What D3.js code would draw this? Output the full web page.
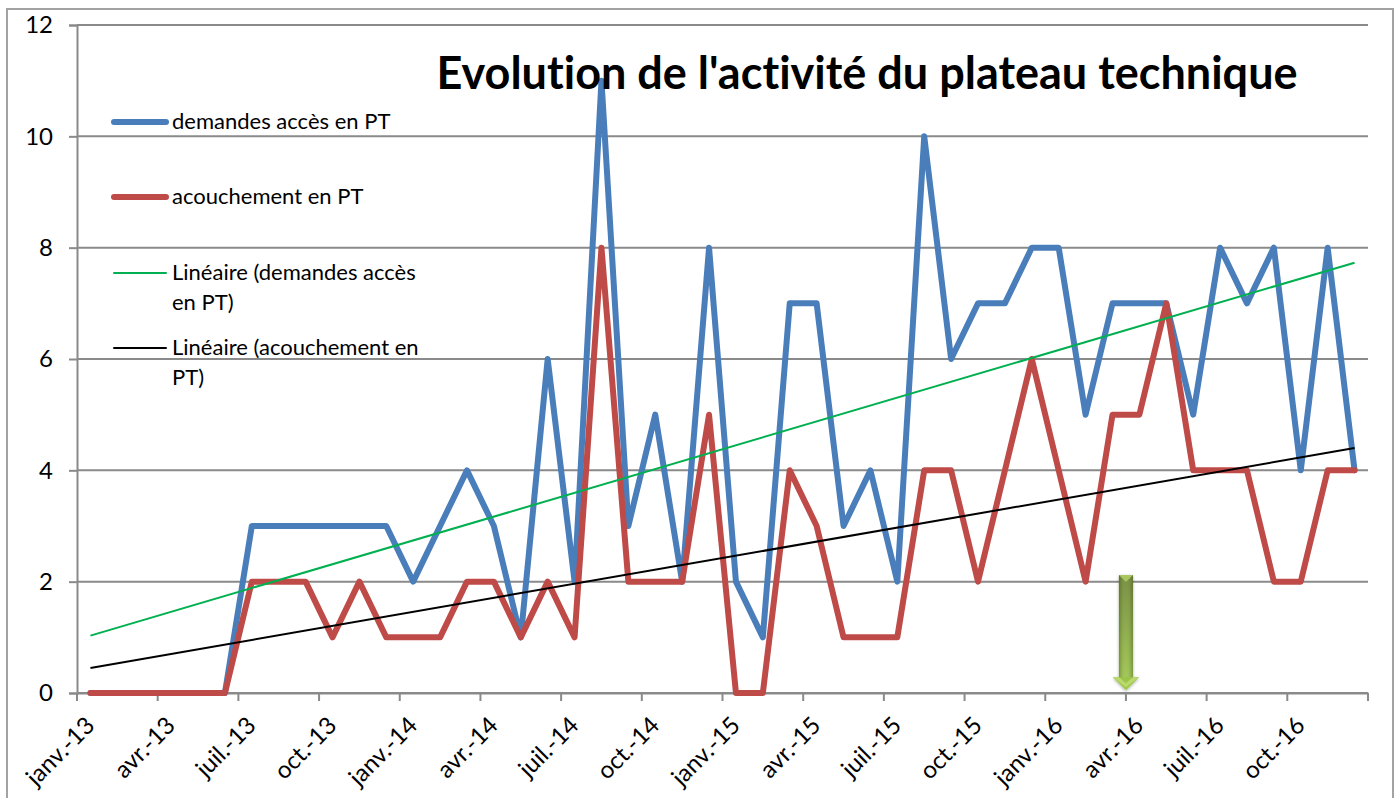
<!DOCTYPE html>
<html>
<head>
<meta charset="utf-8">
<script src="https://cdn.jsdelivr.net/npm/d3@7"></script>
<style>
  html, body { margin: 0; padding: 0; background: #fff; overflow: hidden; }
  text { font-family: Lato, "Open Sans", sans-serif; fill: #000; font-variant-ligatures: none; }
</style>
</head>
<body>
<div id="chart"></div>
<script>
'use strict';

// Months of the category axis
const monthNames = ['janv.', 'févr.', 'mars', 'avr.', 'mai', 'juin', 'juil.', 'août', 'sept.', 'oct.', 'nov.', 'déc.'];
const years = ['13', '14', '15', '16'];
const categories = years.flatMap(y => monthNames.map(m => `${m}-${y}`));

// Values
const demandes = [0, 0, 0, 0, 0, 0, 3, 3, 3, 3, 3, 3, 2, 3, 4, 3, 1, 6, 2, 11, 3, 5, 2, 8,
    2, 1, 7, 7, 3, 4, 2, 10, 6, 7, 7, 8, 8, 5, 7, 7, 7, 5, 8, 7, 8, 4, 8, 4];
const accouchements = [0, 0, 0, 0, 0, 0, 2, 2, 2, 1, 2, 1, 1, 1, 2, 2, 1, 2, 1, 8, 2, 2, 2, 5,
    0, 0, 4, 3, 1, 1, 1, 4, 4, 2, 4, 6, 4, 2, 5, 5, 7, 4, 4, 4, 2, 2, 4, 4];

// Trend lines: value at first and last month
const trendCategories = ['janv.-13', 'déc.-16'];
const trendDemandes = [1.03, 7.73];
const trendAccouchements = [0.45, 4.4];

const yTicks = [0, 2, 4, 6, 8, 10, 12];
const arrowMonth = 'avr.-16';
const arrowFrom = 2.12;
const arrowTo = 0.05;

const width = 1397, height = 798;
const margin = { top: 25, right: 29, bottom: 105, left: 77 };
const gridColor = '#8a8a8a';

const svg = d3.select('#chart').append('svg')
    .attr('width', width)
    .attr('height', height)
    .style('display', 'block');

// Outer chart frame
svg.append('rect')
    .attr('x', 7).attr('y', 9)
    .attr('width', 1386).attr('height', 820)
    .attr('fill', '#fff')
    .attr('stroke', '#a3a3a3')
    .attr('stroke-width', 2);

const x = d3.scaleBand()
    .domain(categories)
    .range([margin.left, width - margin.right]);

const y = d3.scaleLinear()
    .domain([0, 12])
    .range([height - margin.bottom, margin.top]);

const xc = d => x(d) + x.bandwidth() / 2;

// Y axis with full width gridlines
const yAxis = svg.append('g')
    .attr('transform', `translate(${margin.left},0)`)
    .call(d3.axisLeft(y).tickValues(yTicks).tickSize(8).tickPadding(16));
yAxis.selectAll('.tick line').attr('stroke', gridColor).attr('stroke-width', 2);
yAxis.select('.domain').attr('stroke', gridColor).attr('stroke-width', 2);
yAxis.selectAll('text').style('font-size', '24px');

svg.append('g').selectAll('line')
    .data(yTicks)
    .join('line')
    .attr('x1', margin.left)
    .attr('x2', width - margin.right)
    .attr('y1', d => y(d))
    .attr('y2', d => y(d))
    .attr('stroke', gridColor)
    .attr('stroke-width', 2);

// X axis: ticks sit on the category boundaries, one label every 3 months
const xAxis = svg.append('g')
    .attr('transform', `translate(0,${y(0)})`)
    .call(d3.axisBottom(x)
        .tickValues(categories.filter((d, i) => i % 3 === 0))
        .tickSize(8)
        .tickSizeOuter(0));
xAxis.select('.domain').attr('stroke', gridColor).attr('stroke-width', 2);
xAxis.selectAll('.tick line')
    .attr('x1', -x.bandwidth() / 2)
    .attr('x2', -x.bandwidth() / 2)
    .attr('stroke', gridColor)
    .attr('stroke-width', 2);
xAxis.selectAll('.tick text')
    .style('font-size', '24px')
    .attr('text-anchor', 'end')
    .attr('x', 0).attr('y', 0).attr('dy', 0)
    .attr('transform', `translate(${19 - x.bandwidth() / 2},34) rotate(-45)`);
xAxis.append('line')
    .attr('x1', width - margin.right).attr('x2', width - margin.right)
    .attr('y1', 0).attr('y2', 8)
    .attr('stroke', gridColor).attr('stroke-width', 2);

// Series
const line = d3.line()
    .x((d, i) => xc(categories[i]))
    .y(d => y(d));

const trendLine = d3.line()
    .x((d, i) => xc(trendCategories[i]))
    .y(d => y(d));

svg.append('path').datum(demandes)
    .attr('d', line).attr('fill', 'none')
    .attr('stroke', '#4a7ebb').attr('stroke-width', 6)
    .attr('stroke-linejoin', 'round').attr('stroke-linecap', 'round');

svg.append('path').datum(accouchements)
    .attr('d', line).attr('fill', 'none')
    .attr('stroke', '#be4b48').attr('stroke-width', 6)
    .attr('stroke-linejoin', 'round').attr('stroke-linecap', 'round');

svg.append('path').datum(trendDemandes)
    .attr('d', trendLine).attr('fill', 'none')
    .attr('stroke', '#00b050').attr('stroke-width', 2);

svg.append('path').datum(trendAccouchements)
    .attr('d', trendLine).attr('fill', 'none')
    .attr('stroke', '#000').attr('stroke-width', 2);

// Title
svg.append('text')
    .attr('x', 867).attr('y', 89)
    .attr('text-anchor', 'middle')
    .style('font-size', '45px')
    .style('font-weight', 700)
    .text("Evolution de l'activité du plateau technique");

// Legend
const legendItems = [
    { lines: ['demandes accès en PT'], y: 122, color: '#4a7ebb', w: 6 },
    { lines: ['acouchement en PT'], y: 197, color: '#be4b48', w: 6 },
    { lines: ['Linéaire (demandes accès', 'en PT)'], y: 273, color: '#00b050', w: 2 },
    { lines: ['Linéaire (acouchement en', 'PT)'], y: 348, color: '#000', w: 2 }
];

const legend = svg.append('g');
legendItems.forEach(item => {
    legend.append('line')
        .attr('x1', 114).attr('x2', 166)
        .attr('y1', item.y).attr('y2', item.y)
        .attr('stroke', item.color)
        .attr('stroke-width', item.w)
        .attr('stroke-linecap', 'round');
    item.lines.forEach((t, i) => {
        legend.append('text')
            .attr('x', 172)
            .attr('y', item.y + 7 + i * 30)
            .style('font-size', '22px')
            .text(t);
    });
});

// Green arrow pointing at avr.-16
const defs = svg.append('defs');
const grad = defs.append('linearGradient')
    .attr('id', 'arrowFill')
    .attr('x1', 0).attr('y1', 0).attr('x2', 0).attr('y2', 1);
grad.append('stop').attr('offset', '0%').attr('stop-color', '#6b8430');
grad.append('stop').attr('offset', '100%').attr('stop-color', '#a0cb4a');

const shade = defs.append('linearGradient')
    .attr('id', 'arrowShade')
    .attr('x1', 0).attr('y1', 0).attr('x2', 1).attr('y2', 0);
shade.append('stop').attr('offset', '0%').attr('stop-color', '#3b4a1a').attr('stop-opacity', 0.35);
shade.append('stop').attr('offset', '50%').attr('stop-color', '#fff').attr('stop-opacity', 0.08);
shade.append('stop').attr('offset', '100%').attr('stop-color', '#3b4a1a').attr('stop-opacity', 0.35);

const blur = defs.append('filter').attr('id', 'arrowShadow')
    .attr('x', '-40%').attr('y', '-10%').attr('width', '180%').attr('height', '120%');
blur.append('feDropShadow')
    .attr('dx', 0).attr('dy', 1)
    .attr('stdDeviation', 1.5)
    .attr('flood-color', '#000').attr('flood-opacity', 0.35);

const ax = x(arrowMonth);
const a0 = y(arrowFrom), a1 = y(arrowTo);
const arrowPath = `M${ax - 7},${a0}H${ax + 7}V${a1 - 13}H${ax + 13}L${ax},${a1}L${ax - 13},${a1 - 13}H${ax - 7}Z`;
svg.append('path').attr('d', arrowPath).attr('fill', 'url(#arrowFill)').attr('filter', 'url(#arrowShadow)');
svg.append('path').attr('d', `M${ax - 7},${a0}H${ax + 7}V${a1 - 13}H${ax - 7}Z`).attr('fill', 'url(#arrowShade)');
// Light bevels on the top edge and the head
svg.append('path').attr('d', `M${ax - 7},${a0}H${ax + 7}L${ax},${a0 + 7}Z`).attr('fill', '#a9c65f');
svg.append('path').attr('d', `M${ax - 13},${a1 - 13}H${ax - 7}L${ax},${a1 - 7}L${ax + 7},${a1 - 13}H${ax + 13}L${ax},${a1 - 3}Z`).attr('fill', '#b9d96c');
</script>
</body>
</html>
